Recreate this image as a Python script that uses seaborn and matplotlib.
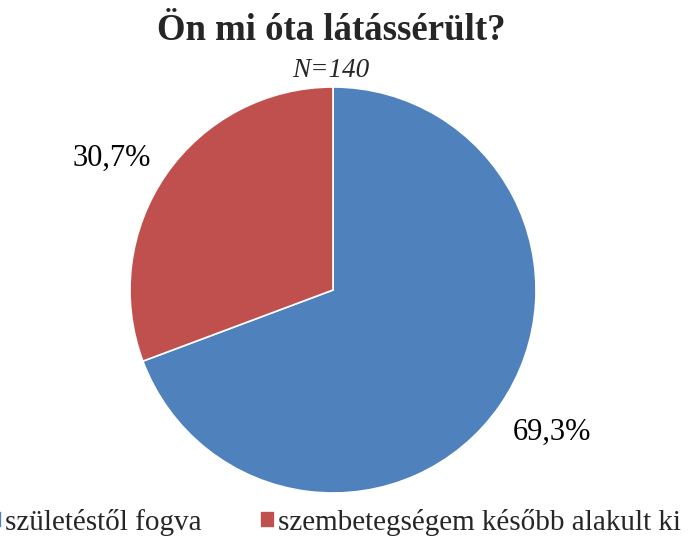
import matplotlib.pyplot as plt
import seaborn as sns

categories = ["születéstől fogva", "szembetegségem később alakult ki"]
shares = [69.3, 30.7]
slice_colors = ["#4F81BD", "#C0504D"]
title = "Ön mi óta látássérült?"
subtitle = "N=140"

sns.set_theme(style="white")
plt.rcParams["font.family"] = ["Liberation Serif", "DejaVu Serif"]

fig = plt.figure(figsize=(6.91, 5.39), dpi=100)
ax = fig.add_axes([130 / 691, 1 - 493 / 539, 406 / 691, 406 / 539])

wedges, texts, pct_texts = ax.pie(
    shares,
    colors=slice_colors,
    startangle=90,
    counterclock=False,
    autopct=lambda p: f"{p:.1f}%".replace(".", ","),
    pctdistance=1.27,
    wedgeprops={"edgecolor": "white", "linewidth": 1.2},
    textprops={"fontsize": 22, "color": "black"},
)
# Excel places the data labels a little off the slice bisector
pct_texts[0].set_position((1.08, -0.70))
pct_texts[1].set_position((-1.09, 0.65))
ax.set_xlim(-1, 1)
ax.set_ylim(-1, 1)
ax.set_aspect("equal")

fig.text(0.48, 0.943, title, ha="center", va="center", fontsize=26.5, fontweight="bold")
fig.text(0.479, 0.87, subtitle, ha="center", va="center", fontsize=19.5, style="italic")

fig.legend(
    wedges, categories,
    loc="lower left", bbox_to_anchor=(-0.019, 0.006),
    ncol=2, frameon=False, fontsize=21,
    borderpad=0, borderaxespad=0,
    handlelength=0.52, handleheight=0.52, handletextpad=0.1, columnspacing=2.0,
)

fig.savefig("out.png", dpi=100)
